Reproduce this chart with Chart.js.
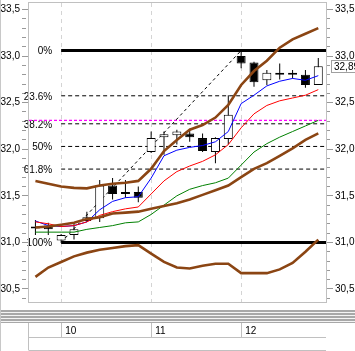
<!DOCTYPE html>
<html>
<head>
<meta charset="utf-8">
<script src="https://cdn.jsdelivr.net/npm/chart.js@4/dist/chart.umd.min.js"></script>
<style>
  html, body { margin: 0; padding: 0; background: #fff; }
  #wrap { position: relative; width: 355px; height: 351px; }
</style>
</head>
<body>
<div id="wrap"><canvas id="chart" width="355" height="351"></canvas></div>
<script>
// Intraday candles, 7 per day (last 2 of day 9, then days 10, 11, 12)
const opens  = [31.16, 31.18, 31.02, 31.08, 31.23, 31.26, 31.61, 31.53, 31.54, 31.97, 32.13, 32.15,
                32.17, 32.12, 31.97, 32.11, 33.00, 32.93, 32.74, 32.81, 32.81, 32.80, 32.69];
const highs  = [31.24, 31.21, 31.09, 31.22, 31.33, 31.67, 31.69, 31.67, 31.60, 32.19, 32.19, 32.21,
                32.22, 32.17, 32.13, 32.58, 33.06, 32.94, 32.85, 32.92, 32.85, 32.85, 32.98];
const lows   = [31.08, 31.08, 31.00, 31.03, 31.22, 31.22, 31.46, 31.48, 31.43, 31.96, 31.94, 32.05,
                32.08, 31.97, 31.85, 32.05, 32.87, 32.67, 32.69, 32.75, 32.76, 32.66, 32.69];
const closes = [31.15, 31.14, 31.08, 31.14, 31.27, 31.61, 31.52, 31.52, 31.48, 32.12, 32.16, 32.19,
                32.13, 31.98, 32.12, 32.37, 32.92, 32.72, 32.82, 32.80, 32.80, 32.69, 32.89];

// Moving averages
const blueMA  = [31.23, 31.18, 31.17, 31.18, 31.22, 31.35, 31.44, 31.48, 31.49, 31.69, 31.93, 31.99,
                 32.02, 32.04, 32.08, 32.19, 32.49, 32.58, 32.68, 32.73, 32.76, 32.74, 32.79];
const redMA   = [31.22, 31.20, 31.17, 31.18, 31.22, 31.29, 31.33, 31.36, 31.38, 31.52, 31.66, 31.76,
                 31.82, 31.87, 31.94, 32.05, 32.23, 32.38, 32.47, 32.52, 32.55, 32.58, 32.64];
const greenMA = [31.11, 31.11, 31.11, 31.11, 31.14, 31.16, 31.18, 31.21, 31.22, 31.30, 31.40, 31.50,
                 31.57, 31.61, 31.64, 31.69, 31.83, 31.97, 32.06, 32.13, 32.19, 32.25, 32.31];

// Bands (brown)
const bandUpper = [31.66, 31.63, 31.60, 31.585, 31.58, 31.61, 31.63, 31.64, 31.66, 31.79, 31.98, 32.10,
                   32.21, 32.26, 32.34, 32.475, 32.69, 32.84, 32.95, 33.09, 33.18, 33.24, 33.30];
const bandMid   = [31.16, 31.17, 31.19, 31.21, 31.25, 31.27, 31.31, 31.32, 31.33, 31.36, 31.39, 31.42,
                   31.46, 31.51, 31.56, 31.61, 31.70, 31.79, 31.85, 31.93, 32.01, 32.10, 32.17];
const bandLower = [30.63, 30.73, 30.79, 30.85, 30.89, 30.92, 30.94, 30.96, 30.97, 30.88, 30.79, 30.73,
                   30.72, 30.75, 30.77, 30.77, 30.67, 30.67, 30.67, 30.71, 30.78, 30.90, 31.03];

// Fibonacci retracement from the low of bar 2 to the high of bar 16
const fibStart = 2, fibEnd = 16;
const fibLow = 31.00, fibHigh = 33.06;
const fibRatios = [0, 0.236, 0.382, 0.5, 0.618, 1];
const fibLabels = ['0%', '23.6%', '38.2%', '50%', '61.8%', '100%'];

const markerLevel = 32.31;   // magenta horizontal line

// Day separators and labels
const dayTicks  = [2, 9, 16];
const dayLabels = ['10', '11', '12'];

const yMajorTicks = [30.5, 31.0, 31.5, 32.0, 32.5, 33.0, 33.5];

const xMin = -0.5, xMax = 22.6;
const yMin = 30.36, yMax = 33.57;

const brown = '#8b4513';

function pts(arr) {
    return arr.map((v, i) => ({ x: i, y: v }));
}

function isMajor(v) {
    return yMajorTicks.some(m => Math.abs(m - v) < 1e-6);
}

function fmt(v, d) {
    return v.toFixed(d).replace('.', ',');
}

// minor ticks every 0.1 between the major ones
const yTickValues = [];
for (let k = Math.ceil(yMin * 10); k <= Math.floor(yMax * 10); k++) {
    yTickValues.push(k / 10);
}

const fibLevels = fibRatios.map(r => fibHigh - (fibHigh - fibLow) * r);

const datasets = [];

// Fibonacci lines
fibLevels.forEach((lvl, k) => {
    const solid = fibRatios[k] === 0 || fibRatios[k] === 1;
    datasets.push({
        type: 'line',
        data: [{ x: fibStart, y: lvl }, { x: xMax, y: lvl }],
        borderColor: '#000',
        borderWidth: solid ? 3 : 1,
        borderDash: solid ? [] : [4, 3],
        pointRadius: 0,
        order: 6
    });
});

// trend line between the two anchor points
datasets.push({
    type: 'line',
    data: [{ x: fibStart, y: fibLow }, { x: fibEnd, y: fibHigh }],
    borderColor: '#000',
    borderWidth: 1,
    borderDash: [3, 3],
    pointRadius: 0,
    order: 6
});

// magenta marker line
datasets.push({
    type: 'line',
    data: [{ x: xMin, y: markerLevel }, { x: xMax, y: markerLevel }],
    borderColor: '#ff00ff',
    borderWidth: 1.3,
    borderDash: [3, 2],
    pointRadius: 0,
    order: 6
});

// candle wicks
datasets.push({
    type: 'bar',
    data: highs.map((h, i) => ({ x: i, y: [lows[i], h] })),
    backgroundColor: '#000',
    borderWidth: 0,
    barThickness: 1,
    grouped: false,
    inflateAmount: 0,
    order: 5
});

// candle bodies
datasets.push({
    type: 'bar',
    data: opens.map((o, i) => ({ x: i, y: [o, closes[i]] })),
    backgroundColor: opens.map((o, i) => closes[i] >= o ? '#fff' : '#000'),
    borderColor: '#000',
    borderWidth: 1,
    borderSkipped: false,
    barThickness: 9,
    minBarLength: 2,
    grouped: false,
    inflateAmount: 0,
    order: 4
});

// moving averages
[[greenMA, '#008000'], [redMA, '#ff0000'], [blueMA, '#0000ff']].forEach(([arr, col]) => {
    datasets.push({
        type: 'line',
        data: pts(arr),
        borderColor: col,
        borderWidth: 1,
        pointRadius: 0,
        tension: 0,
        order: 2
    });
});

// brown bands
[bandUpper, bandMid, bandLower].forEach(arr => {
    datasets.push({
        type: 'line',
        data: pts(arr),
        borderColor: brown,
        borderWidth: 2.6,
        pointRadius: 0,
        tension: 0,
        order: 1
    });
});

// labels for the Fibonacci levels, drawn under the data
const fibLabelPlugin = {
    id: 'fibLabels',
    beforeDatasetsDraw(chart) {
        const { ctx, scales: { x, y } } = chart;
        ctx.save();
        ctx.font = '10px "Liberation Sans", Arial, sans-serif';
        ctx.fillStyle = '#000';
        ctx.textAlign = 'right';
        ctx.textBaseline = 'middle';
        const lx = x.getPixelForValue(fibStart) - 9;
        fibLevels.forEach((lvl, k) => {
            ctx.fillText(fibLabels[k], lx, y.getPixelForValue(lvl) + 1);
        });
        ctx.restore();
    }
};

// frame, separator stripes, date table and last price box
const decorPlugin = {
    id: 'decor',
    afterDraw(chart) {
        const { ctx, chartArea: a, scales: { x, y } } = chart;
        ctx.save();

        // plot frame
        ctx.strokeStyle = '#c0c0c0';
        ctx.lineWidth = 1;
        ctx.strokeRect(Math.round(a.left) - 0.5, Math.round(a.top) - 0.5,
                       Math.round(a.right - a.left) + 1, Math.round(a.bottom - a.top) + 1);

        // grey stripes between the panes
        for (let r = 0; r < 13; r++) {
            ctx.fillStyle = (r % 3 === 2) ? '#f4f4f4' : '#a8a8a8';
            ctx.fillRect(0, a.bottom + 8 + r, chart.width, 1);
        }

        // date table
        const top = a.bottom + 21, mid = a.bottom + 35.5, bot = a.bottom + 48.5;
        ctx.strokeStyle = '#c0c0c0';
        ctx.beginPath();
        ctx.moveTo(a.left, mid); ctx.lineTo(a.right, mid);
        ctx.moveTo(a.left, bot); ctx.lineTo(a.right, bot);
        ctx.moveTo(Math.round(a.left) - 0.5, top); ctx.lineTo(Math.round(a.left) - 0.5, bot);
        x.ticks.forEach(t => {
            const px = Math.round(x.getPixelForValue(t.value)) + 0.5;
            ctx.moveTo(px, top); ctx.lineTo(px, mid);
        });
        ctx.stroke();

        // last close box on the right axis
        const last = closes[closes.length - 1];
        const py = Math.round(y.getPixelForValue(last));
        ctx.fillStyle = '#fff';
        ctx.fillRect(a.right + 5, py - 6, 40, 12);
        ctx.strokeStyle = '#a0a0a0';
        ctx.strokeRect(a.right + 5.5, py - 5.5, 40, 12);
        ctx.fillStyle = '#000';
        ctx.font = '10px "Liberation Sans", Arial, sans-serif';
        ctx.textAlign = 'left';
        ctx.textBaseline = 'middle';
        ctx.fillText(fmt(last, 2), a.right + 8, py + 1);

        // window edge
        ctx.fillStyle = '#c8c8c8';
        ctx.fillRect(0, 0, 1, chart.height);
        ctx.restore();
    }
};

Chart.defaults.font.family = '"Liberation Sans", Arial, sans-serif';
Chart.defaults.font.size = 10;
Chart.defaults.color = '#000';

function yAxis(position) {
    return {
        type: 'linear',
        position: position,
        min: yMin,
        max: yMax,
        afterBuildTicks: s => { s.ticks = yTickValues.map(v => ({ value: v })); },
        afterFit: s => {
            s.width = 29;
            s.paddingTop = 0;
            s.paddingBottom = 0;
        },
        ticks: {
            autoSkip: false,
            padding: 2,
            callback: v => isMajor(v) ? fmt(v, 1) : ''
        },
        grid: {
            drawOnChartArea: false,
            drawTicks: true,
            tickLength: 7,
            tickColor: '#999',
            tickBorderDash: ctx => (ctx.tick && isMajor(ctx.tick.value)) ? [] : [4, 20]
        },
        border: { display: false }
    };
}

new Chart(document.getElementById('chart'), {
    type: 'bar',
    data: { datasets: datasets },
    options: {
        responsive: false,
        animation: false,
        events: [],
        layout: { padding: { top: 3, left: 0, right: 0, bottom: 0 } },
        plugins: {
            legend: { display: false },
            tooltip: { enabled: false }
        },
        scales: {
            x: {
                type: 'linear',
                min: xMin,
                max: xMax,
                offset: false,
                afterBuildTicks: s => { s.ticks = dayTicks.map(v => ({ value: v })); },
                afterFit: s => {
                    s.height = 49;
                    s.paddingLeft = 0;
                    s.paddingRight = 0;
                },
                ticks: {
                    autoSkip: false,
                    maxRotation: 0,
                    align: 'start',
                    labelOffset: 4,
                    padding: 23,
                    callback: v => dayLabels[dayTicks.indexOf(v)]
                },
                grid: {
                    offset: false,
                    drawTicks: false,
                    color: '#d4d4d4',
                    lineWidth: 1
                },
                border: { display: false, dash: [4, 4] }
            },
            y: yAxis('left'),
            yR: yAxis('right')
        }
    },
    plugins: [fibLabelPlugin, decorPlugin]
});
</script>
</body>
</html>
